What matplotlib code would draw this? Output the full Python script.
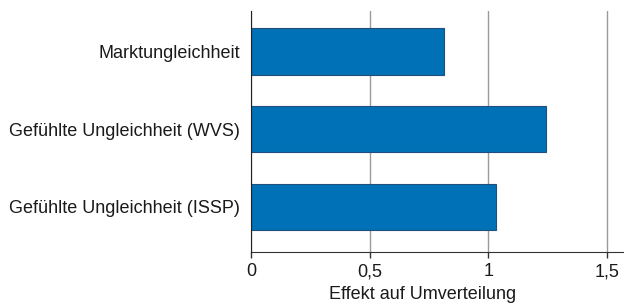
import matplotlib.pyplot as plt
from matplotlib.ticker import FuncFormatter

plt.rcParams['font.family'] = ['Liberation Sans', 'DejaVu Sans']

# data
categories = ['Marktungleichheit', 'Gefühlte Ungleichheit (WVS)', 'Gefühlte Ungleichheit (ISSP)']
effekt = [0.813, 1.242, 1.031]
xticks = [0, 0.5, 1, 1.5]

fig = plt.figure(figsize=(6.24, 3.07), dpi=100)
ax = fig.add_axes([0.4022, 0.179, 0.5962, 0.785])

pos = list(range(len(categories)))
ax.barh(pos, effekt, height=0.6, color='#0071b6', edgecolor='#1f4f7a', linewidth=0.8, zorder=3)
ax.set_yticks(pos)
ax.set_yticklabels(categories, fontsize=13, color='#1a1a1a')
ax.set_ylim(2.58, -0.515)
ax.set_xlim(0, 1.568)
ax.set_xticks(xticks)
ax.xaxis.set_major_formatter(FuncFormatter(lambda v, p: ('%g' % v).replace('.', ',')))
ax.tick_params(axis='x', labelsize=13, length=4, width=1, color='#333333', pad=4, labelcolor='#1a1a1a')
ax.tick_params(axis='y', length=0, pad=8)
ax.grid(axis='x', color='#9a9a9a', linewidth=1, zorder=0)
for s in ['top', 'right']:
    ax.spines[s].set_visible(False)
ax.spines['left'].set_color('#222222')
ax.spines['left'].set_zorder(4)
ax.spines['bottom'].set_color('#333333')
ax.set_xlabel('Effekt auf Umverteilung', fontsize=13, color='#1a1a1a')
ax.xaxis.set_label_coords(0.462, -0.178)
ax.xaxis.label.set_va('center')

fig.savefig('out.png', dpi=100)
